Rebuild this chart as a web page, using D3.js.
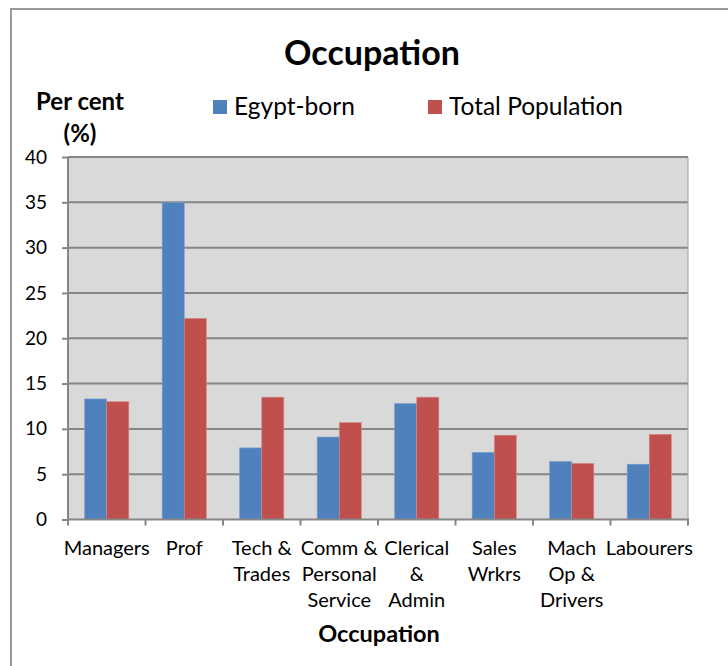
<!DOCTYPE html>
<html>
<head>
<meta charset="utf-8">
<script src="https://cdn.jsdelivr.net/npm/d3@7"></script>
<style>
  body { margin: 0; background: #fff; }
  text { font-family: Lato, "Open Sans", sans-serif; fill: #000; }
</style>
</head>
<body>
<svg width="728" height="666"></svg>
<script>
// data
var categories = ["Managers", "Prof", "Tech & Trades", "Comm & Personal Service",
                  "Clerical & Admin", "Sales Wrkrs", "Mach Op & Drivers", "Labourers"];
// how each category label is broken into lines
var categoryLines = [["Managers"], ["Prof"], ["Tech &", "Trades"], ["Comm &", "Personal", "Service"],
                     ["Clerical", "&", "Admin"], ["Sales", "Wrkrs"], ["Mach", "Op &", "Drivers"], ["Labourers"]];
var seriesNames = ["Egypt-born", "Total Population"];
var egyptBorn = [13.3, 35.0, 7.9, 9.1, 12.8, 7.4, 6.4, 6.1];
var totalPop  = [13.0, 22.2, 13.5, 10.7, 13.5, 9.3, 6.2, 9.4];
var yTicks = [0, 5, 10, 15, 20, 25, 30, 35, 40];
var colors = ["#4f81bd", "#c0504d"];

var svg = d3.select("svg");

// outer chart frame
svg.append("rect")
    .attr("x", 11).attr("y", 9)
    .attr("width", 740).attr("height", 680)
    .attr("fill", "none")
    .attr("stroke", "#9a9a9a")
    .attr("stroke-width", 2);

var plotLeft = 68, plotRight = 688, plotTop = 157, plotBottom = 519.5;

var x0 = d3.scaleBand()
    .domain(categories)
    .range([plotLeft, plotRight])
    .paddingInner(0.43)
    .paddingOuter(0.215);

var x1 = d3.scaleBand()
    .domain(seriesNames)
    .range([0, x0.bandwidth()]);

var y = d3.scaleLinear()
    .domain([0, 40])
    .range([plotBottom, plotTop]);

// plot background
svg.append("rect")
    .attr("x", plotLeft).attr("y", plotTop)
    .attr("width", plotRight - plotLeft).attr("height", plotBottom - plotTop)
    .attr("fill", "#d9d9d9");

// gridlines
svg.append("g")
    .selectAll("line")
    .data(yTicks.filter(function(d) { return d > 0; }))
    .enter().append("line")
      .attr("x1", plotLeft).attr("x2", plotRight)
      .attr("y1", function(d) { return y(d); })
      .attr("y2", function(d) { return y(d); })
      .attr("stroke", "#868686")
      .attr("stroke-width", 2);

// right edge of plot
svg.append("line")
    .attr("x1", plotRight).attr("x2", plotRight)
    .attr("y1", plotTop).attr("y2", plotBottom)
    .attr("stroke", "#a0a0a0").attr("stroke-width", 1);

// bars
var rows = categories.map(function(c, i) { return [egyptBorn[i], totalPop[i]]; });

svg.append("g")
  .selectAll("g")
  .data(rows)
  .enter().append("g")
    .attr("transform", function(d, i) { return "translate(" + x0(categories[i]) + ",0)"; })
  .selectAll("rect")
  .data(function(d) { return d; })
  .enter().append("rect")
    .attr("x", function(d, j) { return x1(seriesNames[j]); })
    .attr("y", function(d) { return y(d); })
    .attr("width", x1.bandwidth())
    .attr("height", function(d) { return plotBottom - y(d); })
    .attr("fill", function(d, j) { return colors[j]; })
    .attr("stroke", function(d, j) { return j == 0 ? "#7a9fd0" : "#d88a88"; })
    .attr("stroke-width", 0.6);

// y axis
var yAxis = svg.append("g")
    .attr("transform", "translate(" + plotLeft + ",0)")
    .call(d3.axisLeft(y).tickValues(yTicks).tickSize(6).tickPadding(15));
yAxis.select(".domain").attr("stroke", "#868686").attr("stroke-width", 2)
    .attr("d", "M0," + plotTop + "V" + plotBottom);
yAxis.selectAll(".tick line").attr("stroke", "#868686").attr("stroke-width", 2);
yAxis.selectAll(".tick text")
    .style("font-family", "Lato, sans-serif")
    .style("font-size", "19px")
    .attr("fill", "#000");

// x axis line + ticks at category boundaries
svg.append("line")
    .attr("x1", plotLeft - 1).attr("x2", plotRight + 1)
    .attr("y1", plotBottom).attr("y2", plotBottom)
    .attr("stroke", "#868686").attr("stroke-width", 2);

var step = x0.step();
svg.append("g")
  .selectAll("line")
  .data(d3.range(categories.length + 1))
  .enter().append("line")
    .attr("x1", function(i) { return plotLeft + i * step; })
    .attr("x2", function(i) { return plotLeft + i * step; })
    .attr("y1", plotBottom).attr("y2", plotBottom + 6)
    .attr("stroke", "#868686").attr("stroke-width", 2);

// category labels
var labels = svg.append("g")
  .selectAll("text")
  .data(categories)
  .enter().append("text")
    .attr("x", function(d) { return x0(d) + x0.bandwidth() / 2; })
    .attr("y", 555)
    .attr("text-anchor", "middle")
    .style("font-size", "20px");
labels.selectAll("tspan")
  .data(function(d, i) { return categoryLines[i]; })
  .enter().append("tspan")
    .attr("x", function() { return d3.select(this.parentNode).attr("x"); })
    .attr("dy", function(d, k) { return k == 0 ? 0 : 26; })
    .text(function(d) { return d; });

// titles
svg.append("text")
    .attr("x", 372).attr("y", 65)
    .attr("text-anchor", "middle")
    .style("font-size", "34px").style("font-weight", "bold")
    .text("Occupation");

svg.append("text")
    .attr("x", 379).attr("y", 642)
    .attr("text-anchor", "middle")
    .style("font-size", "23.5px").style("font-weight", "bold")
    .text("Occupation");

svg.append("text")
    .attr("x", 80).attr("y", 110)
    .attr("text-anchor", "middle")
    .style("font-size", "24px").style("font-weight", "bold")
    .text("Per cent");
svg.append("text")
    .attr("x", 80).attr("y", 142)
    .attr("text-anchor", "middle")
    .style("font-size", "24px").style("font-weight", "bold")
    .text("(%)");

// legend
var legendX = [213, 428];
var legend = svg.append("g")
  .selectAll("g")
  .data(seriesNames)
  .enter().append("g")
    .attr("transform", function(d, i) { return "translate(" + legendX[i] + ",100)"; });
legend.append("rect")
    .attr("width", 14).attr("height", 14)
    .attr("fill", function(d, i) { return colors[i]; });
legend.append("text")
    .attr("x", 21).attr("y", 15)
    .style("font-size", "24.5px")
    .text(function(d) { return d; });
</script>
</body>
</html>
